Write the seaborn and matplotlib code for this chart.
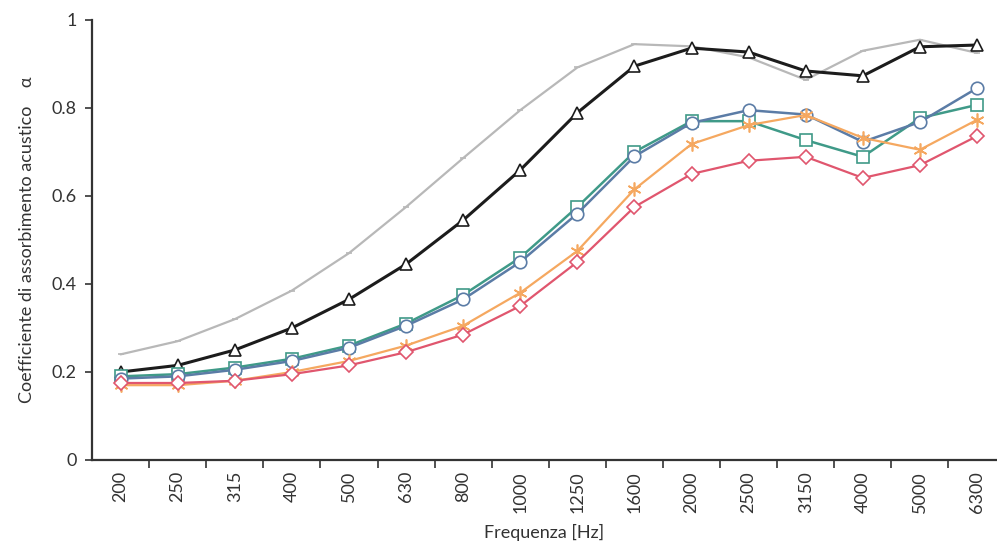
import matplotlib
matplotlib.use("Agg")
import matplotlib.pyplot as plt
import seaborn as sns
import numpy as np

freq_labels = ["200", "250", "315", "400", "500", "630", "800", "1000",
               "1250", "1600", "2000", "2500", "3150", "4000", "5000", "6300"]

grey_vals = [0.240, 0.270, 0.320, 0.385, 0.470, 0.575, 0.686, 0.795,
             0.892, 0.945, 0.940, 0.915, 0.864, 0.930, 0.955, 0.925]
black_vals = [0.200, 0.215, 0.250, 0.300, 0.365, 0.445, 0.545, 0.659,
              0.789, 0.895, 0.936, 0.927, 0.884, 0.873, 0.939, 0.943]
blue_vals = [0.185, 0.190, 0.205, 0.225, 0.255, 0.305, 0.365, 0.450,
             0.560, 0.690, 0.766, 0.795, 0.785, 0.723, 0.768, 0.845]
teal_vals = [0.190, 0.195, 0.210, 0.230, 0.260, 0.310, 0.375, 0.460,
             0.575, 0.700, 0.770, 0.770, 0.727, 0.689, 0.777, 0.807]
orange_vals = [0.170, 0.170, 0.180, 0.200, 0.225, 0.260, 0.305, 0.380,
               0.475, 0.615, 0.718, 0.761, 0.784, 0.732, 0.705, 0.773]
red_vals = [0.175, 0.175, 0.180, 0.195, 0.215, 0.245, 0.285, 0.350,
            0.450, 0.575, 0.650, 0.680, 0.689, 0.641, 0.670, 0.736]

sns.set_theme(style="white")
plt.rcParams["font.family"] = ["Lato", "DejaVu Sans"]

fig = plt.figure(figsize=(9.97, 5.48), dpi=100)
ax = fig.add_axes([0.0923, 0.1606, 0.9077, 0.803])

x = np.arange(len(freq_labels))
series = [
    (grey_vals, "#b8b8b8", "_", 4, 1.6),
    (black_vals, "#1c1c1c", "^", 9, 2.2),
    (teal_vals, "#3f9a88", "s", 9, 1.8),
    (blue_vals, "#5b7ca6", "o", 9, 1.8),
    (orange_vals, "#f5a860", (6, 2, 0), 10, 1.6),
    (red_vals, "#e0566e", "D", 7, 1.6),
]
for vals, col, mk, ms, lw in series:
    sns.lineplot(x=x, y=vals, ax=ax, color=col, linewidth=lw, marker=mk,
                 markersize=ms, markerfacecolor="white", markeredgecolor=col,
                 markeredgewidth=1.2)

ax.set_xlim(-0.5, 15.35)
ax.set_ylim(0, 1)
ax.set_yticks([0, 0.2, 0.4, 0.6, 0.8, 1.0])
ax.set_yticklabels(["0", "0.2", "0.4", "0.6", "0.8", "1"])
ax.set_xticks(x)
ax.set_xticklabels(freq_labels, rotation=90)
ax.set_xticks(x[:-1] + 0.5, minor=True)
ax.tick_params(axis="x", which="major", length=0, pad=8, labelsize=13, colors="#333333")
ax.tick_params(axis="x", which="minor", length=6, width=1.2, direction="out",
               color="#333333", bottom=True)
ax.tick_params(axis="y", length=5, width=1.2, direction="out", left=True,
               labelsize=13, colors="#333333", pad=6)
for s in ["top", "right"]:
    ax.spines[s].set_visible(False)
for s in ["left", "bottom"]:
    ax.spines[s].set_color("#333333")
    ax.spines[s].set_linewidth(1.6)

ax.set_xlabel("Frequenza [Hz]", fontsize=13, color="#333333", labelpad=8)
ax.set_ylabel("Coefficiente di assorbimento acustico    α", fontsize=13,
              color="#333333", labelpad=12)

fig.savefig("out.png", dpi=100)
